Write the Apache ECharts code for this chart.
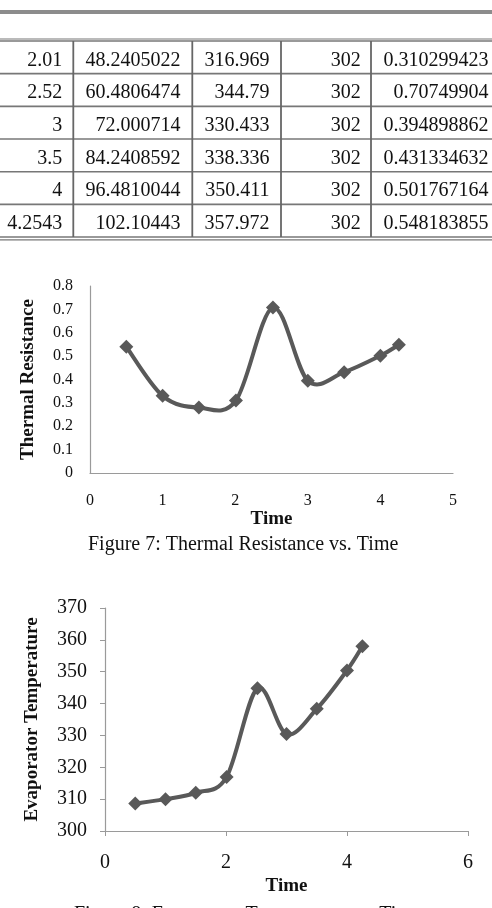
<!DOCTYPE html>
<html>
<head>
<meta charset="utf-8">
<script src="https://cdn.jsdelivr.net/npm/echarts@6/dist/echarts.min.js"></script>
<style>
html,body{margin:0;padding:0;background:#fff;overflow:hidden;}
#c{width:492px;height:908px;}
</style>
</head>
<body>
<div id="c"></div>
<script>
// ---- Table data (visible rows) ----
var tblTime = ['2.01', '2.52', '3', '3.5', '4', '4.2543'];
var tblHeat = ['48.2405022', '60.4806474', '72.000714', '84.2408592', '96.4810044', '102.10443'];
var tblEvap = ['316.969', '344.79', '330.433', '338.336', '350.411', '357.972'];
var tblCond = ['302', '302', '302', '302', '302', '302'];
var tblRes = ['0.310299423', '0.70749904', '0.394898862', '0.431334632', '0.501767164', '0.548183855'];

// ---- Chart data ----
var time = [0.5, 1, 1.5, 2.01, 2.52, 3, 3.5, 4, 4.2543];
var resistance = [0.54, 0.33, 0.28, 0.310299423, 0.70749904, 0.394898862, 0.431334632, 0.501767164, 0.548183855];
var evapTemp = [308.6, 310.0, 312.0, 316.969, 344.79, 330.433, 338.336, 350.411, 357.972];

var xTicks1 = [0, 1, 2, 3, 4, 5];
var yTicks1 = [0, 0.1, 0.2, 0.3, 0.4, 0.5, 0.6, 0.7, 0.8];
var xTicks2 = [0, 2, 4, 6];
var yTicks2 = [300, 310, 320, 330, 340, 350, 360, 370];

var caption1 = 'Figure 7: Thermal Resistance vs. Time';
var caption2 = 'Figure 8: Evaporator Temperature vs. Time';

var SERIF = "'Liberation Serif','Times New Roman',serif";
var lineCol = '#595959';
var axisCol = '#9a9a9a';

// ---- build table graphics ----
var g = [];
g.push({type:'rect', shape:{x:0, y:10, width:492, height:4}, style:{fill:'#8c8c8c'}});
var rowTop = 41, rowH = 32.67, nRows = tblTime.length;
g.push({type:'line', shape:{x1:0, y1:39, x2:492, y2:39}, style:{stroke:'#777', lineWidth:1.2}});
for (var i = 0; i <= nRows; i++) {
  var yy = rowTop + i * rowH;
  g.push({type:'line', shape:{x1:0, y1:yy, x2:492, y2:yy}, style:{stroke:'#777', lineWidth:1.6}});
}
g.push({type:'line', shape:{x1:0, y1:rowTop + nRows*rowH + 2.8, x2:492, y2:rowTop + nRows*rowH + 2.8}, style:{stroke:'#777', lineWidth:1.2}});
var seps = [73.3, 192.3, 281, 371];
seps.forEach(function(sx){
  g.push({type:'line', shape:{x1:sx, y1:rowTop, x2:sx, y2:rowTop + nRows*rowH}, style:{stroke:'#666', lineWidth:1.8}});
});
var cols = [tblTime, tblHeat, tblEvap, tblCond, tblRes];
var rightEdges = [62.3, 180.5, 269.5, 360.7, 488.5];
cols.forEach(function(col, ci){
  col.forEach(function(v, ri){
    g.push({type:'text', style:{text:v, x:rightEdges[ci], y:rowTop + ri*rowH + 19.5, align:'right', verticalAlign:'middle',
      fontSize:20, fontFamily:SERIF, fill:'#111'}});
  });
});
g.push({type:'text', style:{text:caption1, x:88, y:545, align:'left', verticalAlign:'middle', fontSize:20, fontFamily:SERIF, fill:'#111'}});
g.push({type:'text', style:{text:caption2, x:74, y:915, align:'left', verticalAlign:'middle', fontSize:20, fontFamily:SERIF, fill:'#111'}});

// Excel-style smoothed line, drawn segment by segment through the axis scales
function smoothRenderer(xs, ys) {
  return function (params, api) {
    var i = params.dataIndex, n = xs.length;
    if (i >= n - 1) return null;
    var p0 = api.coord([xs[Math.max(i-1,0)], ys[Math.max(i-1,0)]]);
    var p1 = api.coord([xs[i], ys[i]]);
    var p2 = api.coord([xs[i+1], ys[i+1]]);
    var p3 = api.coord([xs[Math.min(i+2,n-1)], ys[Math.min(i+2,n-1)]]);
    var k = 1/6;
    return {
      type:'bezierCurve',
      shape:{
        x1:p1[0], y1:p1[1], x2:p2[0], y2:p2[1],
        cpx1:p1[0] + (p2[0]-p0[0])*k, cpy1:p1[1] + (p2[1]-p0[1])*k,
        cpx2:p2[0] - (p3[0]-p1[0])*k, cpy2:p2[1] - (p3[1]-p1[1])*k
      },
      style:{stroke:lineCol, lineWidth:4, fill:null, lineCap:'round'}
    };
  };
}

var data1 = time.map(function(t,i){return [t, resistance[i]];});
var data2 = time.map(function(t,i){return [t, evapTemp[i]];});

var chart = echarts.init(document.getElementById('c'));
chart.setOption({
  animation:false,
  backgroundColor:'#fff',
  grid:[
    {left:90, right:39, top:286, bottom:435, containLabel:false},
    {left:105, right:24, top:608, bottom:77, containLabel:false}
  ],
  xAxis:[
    {gridIndex:0, type:'value', min:xTicks1[0], max:xTicks1[xTicks1.length-1], interval:1,
     axisLine:{show:true, lineStyle:{color:axisCol, width:1.2}}, axisTick:{show:false}, splitLine:{show:false},
     axisLabel:{color:'#111', fontSize:16, fontFamily:SERIF, margin:20},
     name:'Time', nameLocation:'middle', nameGap:37,
     nameTextStyle:{color:'#111', fontSize:19, fontWeight:'bold', fontFamily:SERIF}},
    {gridIndex:1, type:'value', min:xTicks2[0], max:xTicks2[xTicks2.length-1], interval:2,
     axisLine:{show:true, lineStyle:{color:axisCol, width:1.2}}, axisTick:{show:true, length:5, lineStyle:{color:axisCol}}, splitLine:{show:false},
     axisLabel:{color:'#111', fontSize:20, fontFamily:SERIF, margin:22},
     name:'Time', nameLocation:'middle', nameGap:46,
     nameTextStyle:{color:'#111', fontSize:19, fontWeight:'bold', fontFamily:SERIF}}
  ],
  yAxis:[
    {gridIndex:0, type:'value', min:yTicks1[0], max:yTicks1[yTicks1.length-1], interval:0.1,
     axisLine:{show:true, lineStyle:{color:axisCol, width:1.2}}, axisTick:{show:false}, splitLine:{show:false},
     axisLabel:{color:'#111', fontSize:16, fontFamily:SERIF, margin:17},
     name:'Thermal Resistance', nameLocation:'middle', nameGap:52,
     nameTextStyle:{color:'#111', fontSize:19, fontWeight:'bold', fontFamily:SERIF}},
    {gridIndex:1, type:'value', min:yTicks2[0], max:yTicks2[yTicks2.length-1], interval:10,
     axisLine:{show:true, lineStyle:{color:axisCol, width:1.2}}, axisTick:{show:true, length:5, lineStyle:{color:axisCol}}, splitLine:{show:false},
     axisLabel:{color:'#111', fontSize:20, fontFamily:SERIF, margin:18},
     name:'Evaporator Temperature', nameLocation:'middle', nameGap:63,
     nameTextStyle:{color:'#111', fontSize:19, fontWeight:'bold', fontFamily:SERIF}}
  ],
  series:[
    {type:'custom', xAxisIndex:0, yAxisIndex:0, data:data1, encode:{x:0, y:1},
     renderItem: smoothRenderer(time, resistance), z:2},
    {type:'scatter', xAxisIndex:0, yAxisIndex:0, data:data1,
     symbol:'diamond', symbolSize:14, itemStyle:{color:lineCol, opacity:1}, z:3},
    {type:'custom', xAxisIndex:1, yAxisIndex:1, data:data2, encode:{x:0, y:1},
     renderItem: smoothRenderer(time, evapTemp), z:2},
    {type:'scatter', xAxisIndex:1, yAxisIndex:1, data:data2,
     symbol:'diamond', symbolSize:14, itemStyle:{color:lineCol, opacity:1}, z:3}
  ],
  graphic: g
});
</script>
</body>
</html>
